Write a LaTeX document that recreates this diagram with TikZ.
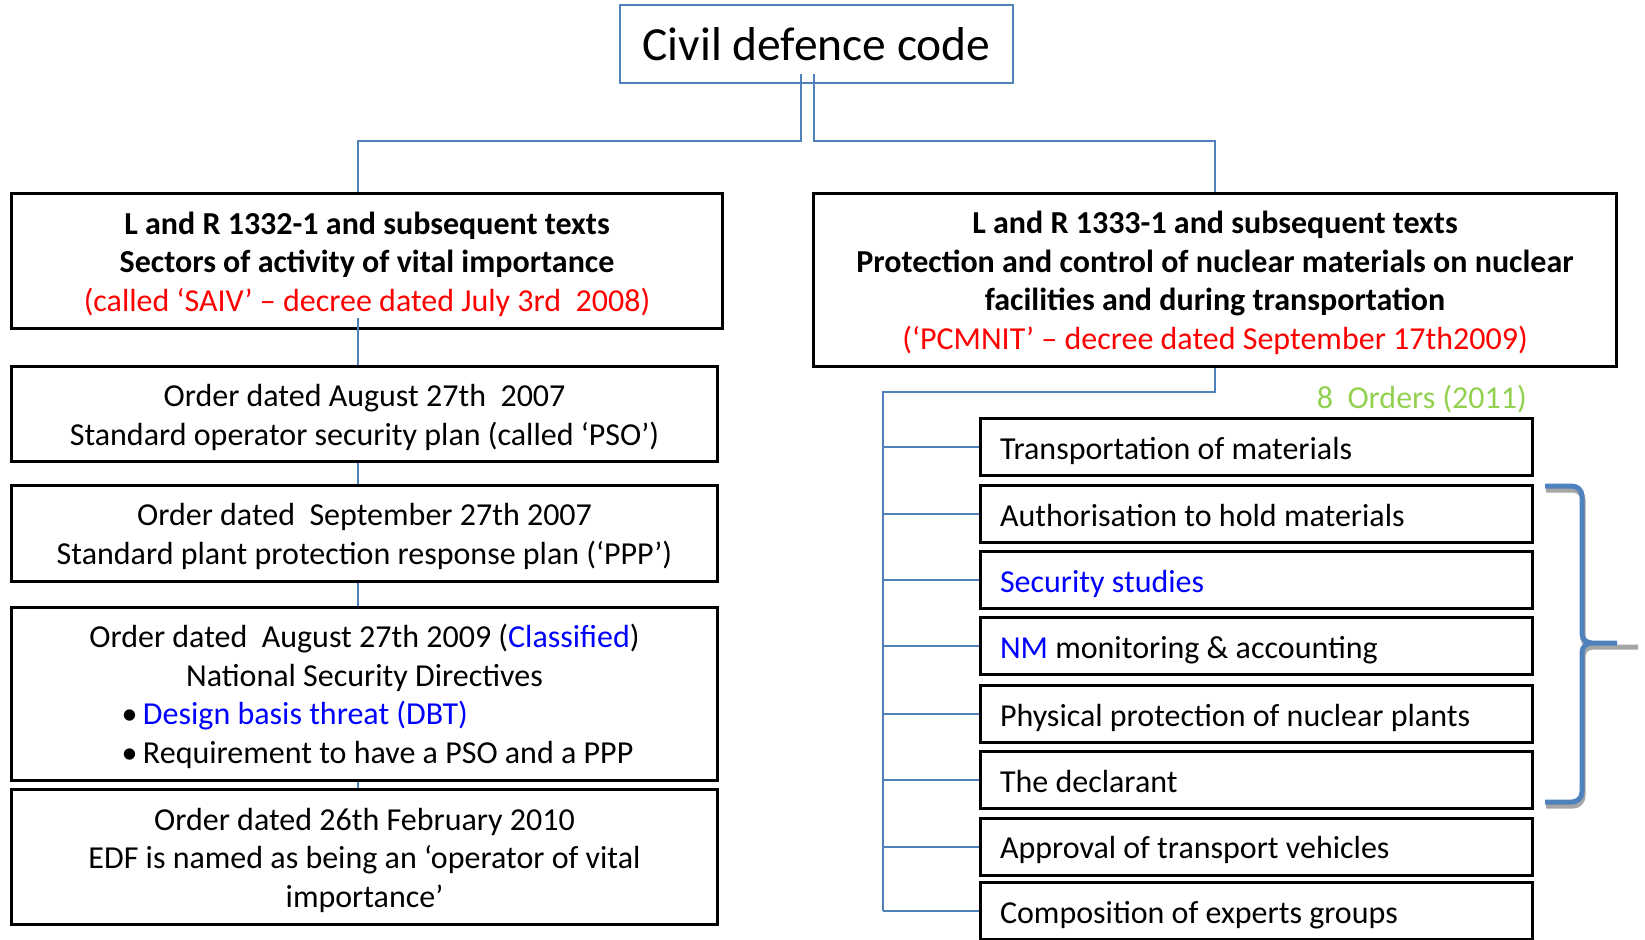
\documentclass[tikz,border=0pt]{standalone}
\usepackage{fontspec}
\setmainfont{Carlito}
\usepackage{tikz}
\usetikzlibrary{positioning}
\definecolor{linkblue}{RGB}{79,129,189}
\definecolor{hlblue}{RGB}{0,0,255}
\definecolor{decred}{RGB}{255,0,0}
\definecolor{ordgreen}{RGB}{146,208,80}
\newcommand{\hl}[1]{\textcolor{hlblue}{#1}}
\newcommand{\dec}[1]{\textcolor{decred}{#1}}

\begin{document}
\begin{tikzpicture}[x=1pt, y=-1pt,
    bodyfont/.style={font=\fontsize{32}{38.5}\selectfont},
    % #1 = number of text lines, keeps the text block a bit low in its frame
    lowtext/.style={execute at begin node={\rule{0pt}{\dimexpr 38.5pt*#1-2.5pt\relax}}, execute at end node={\rule[-12pt]{0pt}{0pt}}},
    orderbox/.style={draw, line width=3pt, fill=white, bodyfont, lowtext=#1, align=center, inner sep=0pt},
    itembox/.style={draw, line width=3pt, fill=white, bodyfont, lowtext=1, minimum width=552pt, minimum height=57pt, text width=512pt, align=flush left, inner sep=0pt},
    link/.style={draw=linkblue, line width=2pt},
    bracestyle/.style={line width=5pt, line cap=butt}]
      \useasboundingbox (0, 0) rectangle (1645, 939);

      \node[draw=linkblue, line width=2.5pt, minimum width=393pt, minimum height=78pt, font=\fontsize{47.5}{57}\selectfont] (code) at (816.5, 44) {Civil defence code};

      % left column
      \node[orderbox=3, minimum width=711pt, minimum height=135pt] (L1) at (367, 260.5) {\textbf{L and R 1332-1 and subsequent texts}\\ \textbf{Sectors of activity of vital importance}\\ \dec{(called ‘SAIV’ – decree dated July 3rd~~2008)}};
      \node[orderbox=2, minimum width=706pt, minimum height=95.5pt] (L2) at (364.5, 414) {Order dated August 27th~~2007\\ Standard operator security plan (called ‘PSO’)};
      \node[orderbox=2, minimum width=706pt, minimum height=96pt] (L3) at (364.5, 533) {Order dated~~September 27th 2007\\ Standard plant protection response plan (‘PPP’)};
      \node[orderbox=3, minimum width=706pt, minimum height=173pt] (L4) at (364.5, 693.5) {Order dated~~August 27th 2009 (\hl{Classified})\\ National Security Directives\\ \hspace*{26pt}\begin{tabular}[t]{@{}l@{}}•\,\hl{Design basis threat (DBT)}\\ •\,Requirement to have a PSO and a PPP\end{tabular}};
      \node[orderbox=3, minimum width=706pt, minimum height=135pt] (L5) at (364.5, 856.5) {Order dated 26th February 2010\\ EDF is named as being an ‘operator of vital\\ importance’};

      % right column
      \node[orderbox=4, minimum width=802.5pt, minimum height=173pt] (R) at (1215, 279.5) {\textbf{L and R 1333-1 and subsequent texts}\\ \textbf{Protection and control of nuclear materials on nuclear}\\ \textbf{facilities and during transportation}\\ \dec{(‘PCMNIT’ – decree dated September 17th2009)}};
      \node[anchor=east, text=ordgreen, bodyfont, inner sep=0pt] (orders) at (1527, 399) {8~~Orders (2011)};

      \node[itembox] (T1) at (1256, 447) {Transportation of materials};
      \node[itembox] (T2) at (1256, 514) {Authorisation to hold materials};
      \node[itembox] (T3) at (1256, 580) {\hl{Security studies}};
      \node[itembox] (T4) at (1256, 646) {\hl{NM} monitoring \& accounting};
      \node[itembox] (T5) at (1256, 714) {Physical protection of nuclear plants};
      \node[itembox] (T6) at (1256, 780) {The declarant};
      \node[itembox] (T7) at (1256, 846.5) {Approval of transport vehicles};
      \node[itembox] (T8) at (1256, 911) {Composition of experts groups};

      % connectors
      \draw[link] ([xshift=-15.5pt, yshift=10pt]code.south) -- ++(0, 67) -| ([xshift=-9pt]L1.north);
      \draw[link] ([xshift=-2.5pt, yshift=10pt]code.south) -- ++(0, 67) -| (R.north);
      \draw[link] ([xshift=-9pt, yshift=12pt]L1.south) -- ([xshift=-6.5pt]L2.north);
      \draw[link] ([xshift=-6.5pt]L2.south) -- ([xshift=-6.5pt]L3.north);
      \draw[link] ([xshift=-6.5pt]L3.south) -- ([xshift=-6.5pt]L4.north);
      \draw[link] ([xshift=-6.5pt]L4.south) -- ([xshift=-6.5pt]L5.north);

      \coordinate (bus) at (883, 392);
      \draw[link] (R.south) |- (bus) -- (bus |- T8.west);
      \draw[link] (T1.west) -- (T1.west -| bus);
      \draw[link] (T2.west) -- (T2.west -| bus);
      \draw[link] (T3.west) -- (T3.west -| bus);
      \draw[link] (T4.west) -- (T4.west -| bus);
      \draw[link] (T5.west) -- (T5.west -| bus);
      \draw[link] (T6.west) -- (T6.west -| bus);
      \draw[link] (T7.west) -- (T7.west -| bus);
      \draw[link] (T8.west) -- (T8.west -| bus);

      % brace
      \draw[bracestyle, gray!70, shift={(1, 4)}] (1545, 486) -- (1572, 486) to[out=0, in=90] (1582, 496) -- (1582, 634) to[out=-90, in=180] (1592, 643) -- (1637, 643) (1592, 643) to[out=180, in=90] (1582, 652) -- (1582, 792) to[out=-90, in=0] (1572, 802) -- (1545, 802);
      \draw[bracestyle, linkblue] (1545, 486) -- (1572, 486) to[out=0, in=90] (1582, 496) -- (1582, 634) to[out=-90, in=180] (1592, 643) -- (1617, 643) (1592, 643) to[out=180, in=90] (1582, 652) -- (1582, 792) to[out=-90, in=0] (1572, 802) -- (1545, 802);
    \end{tikzpicture}
\end{document}
